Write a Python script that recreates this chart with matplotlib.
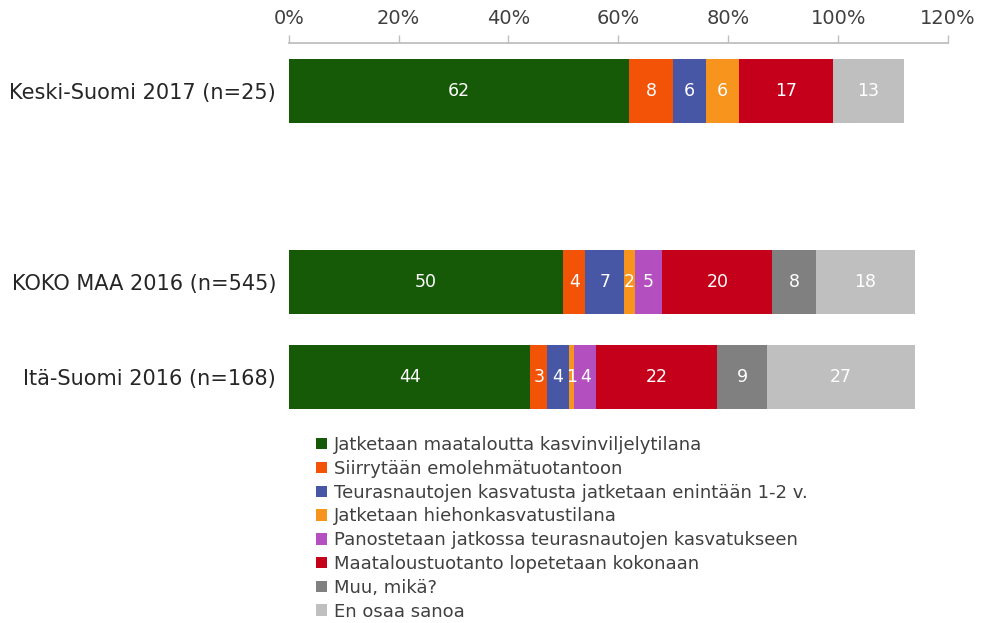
import numpy as np
import matplotlib
matplotlib.use("Agg")
import matplotlib.pyplot as plt
from matplotlib.patches import Patch

plt.rcParams['font.family'] = ['DejaVu Sans']

# categories (blank row keeps the gap between 2017 and 2016 bars)
categories = ['Keski-Suomi 2017 (n=25)', '', 'KOKO MAA 2016 (n=545)', 'Itä-Suomi 2016 (n=168)']

series = ['Jatketaan maataloutta kasvinviljelytilana',
          'Siirrytään emolehmätuotantoon',
          'Teurasnautojen kasvatusta jatketaan enintään 1-2 v.',
          'Jatketaan hiehonkasvatustilana',
          'Panostetaan jatkossa teurasnautojen kasvatukseen',
          'Maataloustuotanto lopetetaan kokonaan',
          'Muu, mikä?',
          'En osaa sanoa']

# values per series, one per category (blank row = 0)
jatketaan_kasvi = [62, 0, 50, 44]
emolehma = [8, 0, 4, 3]
teurasnauta_1_2 = [6, 0, 7, 4]
hieho = [6, 0, 2, 1]
panostetaan = [0, 0, 5, 4]
lopetetaan = [17, 0, 20, 22]
muu = [0, 0, 8, 9]
en_osaa = [13, 0, 18, 27]

values = [jatketaan_kasvi, emolehma, teurasnauta_1_2, hieho,
          panostetaan, lopetetaan, muu, en_osaa]

colors = ['#165a07', '#f25307', '#4756a5', '#f7941e',
          '#b44fbf', '#c5001a', '#808080', '#bfbfbf']

xticks = [0, 20, 40, 60, 80, 100, 120]

fig = plt.figure(figsize=(9.81, 6.23), dpi=100)
ax = fig.add_axes([0.2943, 0.3186, 0.6721, 0.6116])

y = np.arange(len(categories))
left = np.zeros(len(categories))
for vals, col, name in zip(values, colors, series):
    vals = np.array(vals, dtype=float)
    ax.barh(y, vals, left=left, height=0.67, color=col, label=name)
    for yi, (l, v) in enumerate(zip(left, vals)):
        if v > 0:
            ax.text(l + v / 2, yi, f'{v:.0f}', ha='center', va='center',
                    color='white', fontsize=12.5)
    left += vals

ax.set_xlim(0, 120)
ax.set_ylim(3.5, -0.5)
ax.set_xticks(xticks)
ax.set_xticklabels([f'{t}%' for t in xticks])
ax.set_yticks(y)
ax.set_yticklabels(categories)

ax.xaxis.tick_top()
ax.tick_params(axis='x', direction='out', length=6, width=1, color='#bfbfbf',
               labelsize=14, labelcolor='#404040', pad=5)
ax.tick_params(axis='y', length=0, labelsize=15, labelcolor='#262626', pad=9)

for s in ['left', 'right', 'bottom']:
    ax.spines[s].set_visible(False)
ax.spines['top'].set_color('#bfbfbf')
ax.spines['top'].set_linewidth(1.3)

handles = [Patch(facecolor=c, edgecolor='none') for c in colors]
fig.legend(handles, series, loc='upper left', bbox_to_anchor=(0.322, 0.300),
           frameon=False, fontsize=13, labelcolor='#404040',
           handlelength=0.6, handleheight=0.6, handletextpad=0.4,
           labelspacing=0.32, borderpad=0, borderaxespad=0)

fig.savefig('out.png', dpi=100)
